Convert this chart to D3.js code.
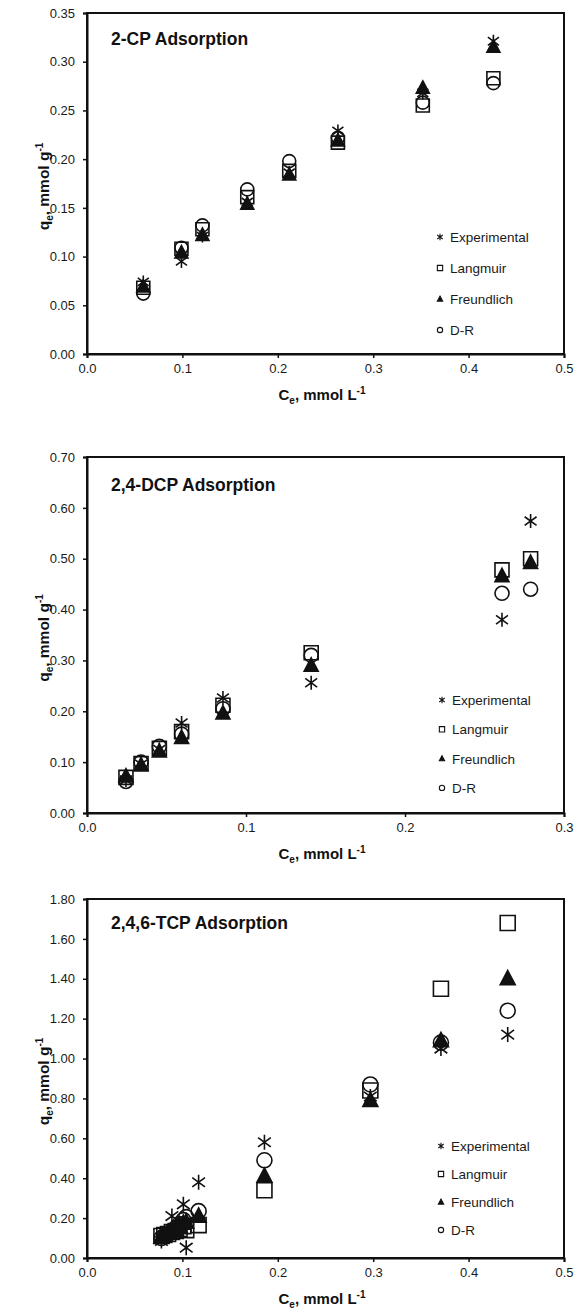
<!DOCTYPE html>
<html>
<head>
<meta charset="utf-8">
<script src="https://cdn.jsdelivr.net/npm/d3@7"></script>
<style>
  body { margin: 0; background: #fff; }
  svg { display: block; font-family: Arial, 'Liberation Sans', sans-serif; }
</style>
</head>
<body>
<div id="chart"></div>
<script>
// ---- data ----
const seriesNames = ['Experimental', 'Langmuir', 'Freundlich', 'D-R'];

// 2-CP
const cpCe   = [0.059, 0.099, 0.121, 0.168, 0.212, 0.263, 0.352, 0.426];
const cpExp  = [0.074, 0.095, 0.121, 0.156, 0.186, 0.229, 0.268, 0.321];
const cpLang = [0.068, 0.108, 0.128, 0.161, 0.188, 0.217, 0.255, 0.283];
const cpFreu = [0.069, 0.104, 0.122, 0.154, 0.184, 0.219, 0.273, 0.315];
const cpDR   = [0.062, 0.109, 0.132, 0.169, 0.198, 0.222, 0.258, 0.278];

// 2,4-DCP
const dcpCe   = [0.0245, 0.034, 0.0455, 0.0595, 0.0855, 0.141, 0.261, 0.279];
const dcpExp  = [0.065, 0.096, 0.125, 0.177, 0.226, 0.256, 0.380, 0.574];
const dcpLang = [0.070, 0.097, 0.127, 0.160, 0.212, 0.315, 0.478, 0.500];
const dcpFreu = [0.072, 0.094, 0.121, 0.148, 0.196, 0.290, 0.466, 0.492];
const dcpDR   = [0.062, 0.100, 0.131, 0.155, 0.205, 0.310, 0.432, 0.440];

// 2,4,6-TCP
const tcpCe   = [0.078, 0.081, 0.085, 0.089, 0.093, 0.097, 0.101, 0.104, 0.117, 0.186, 0.297, 0.371, 0.441];
const tcpExp  = [0.085, 0.110, 0.125, 0.210, 0.140, 0.160, 0.269, 0.052, 0.380, 0.580, 0.810, 1.050, 1.120];
const tcpLang = [0.110, 0.115, 0.120, 0.130, 0.135, 0.145, 0.160, 0.140, 0.165, 0.340, 0.840, 1.350, 1.680];
const tcpFreu = [0.105, 0.115, 0.125, 0.135, 0.145, 0.160, 0.175, 0.180, 0.210, 0.410, 0.790, 1.090, 1.400];
const tcpDR   = [0.100, 0.110, 0.120, 0.135, 0.150, 0.170, 0.190, 0.205, 0.235, 0.490, 0.870, 1.080, 1.240];

// ticks
const xTicksA = [0, 0.1, 0.2, 0.3, 0.4, 0.5];
const xTicksB = [0, 0.1, 0.2, 0.3];
const yTicksCP  = [0, 0.05, 0.10, 0.15, 0.20, 0.25, 0.30, 0.35];
const yTicksDCP = [0, 0.10, 0.20, 0.30, 0.40, 0.50, 0.60, 0.70];
const yTicksTCP = [0, 0.20, 0.40, 0.60, 0.80, 1.00, 1.20, 1.40, 1.60, 1.80];

const W = 582, H = 1313;
const left = 87, right = 564;
const ink = '#111';

// marker shapes, size = full extent squared
const square = { draw(c, size) { const h = Math.sqrt(size) / 2; c.rect(-h, -h, 2 * h, 2 * h); } };
const circle = { draw(c, size) { const r = Math.sqrt(size) / 2; c.moveTo(r, 0); c.arc(0, 0, r, 0, 2 * Math.PI); } };
const triangle = { draw(c, size) {
  const w = Math.sqrt(size);
  c.moveTo(0, -0.55 * w); c.lineTo(0.5 * w, 0.4 * w); c.lineTo(-0.5 * w, 0.4 * w); c.closePath();
} };
const asterisk = { draw(c, size) {
  const r = Math.sqrt(size) / 2, a = r * 0.85, b = r * 0.62;
  c.moveTo(0, -r); c.lineTo(0, r);
  c.moveTo(-a, -b); c.lineTo(a, b);
  c.moveTo(-a, b); c.lineTo(a, -b);
} };

const styles = {
  'Experimental': {type: asterisk, fill: 'none'},
  'Langmuir': {type: square, fill: 'none'},
  'D-R': {type: circle, fill: 'none'},
  'Freundlich': {type: triangle, fill: ink}
};
const drawOrder = ['Experimental', 'Langmuir', 'D-R', 'Freundlich'];

const svg = d3.select('#chart').append('svg').attr('width', W).attr('height', H);

const panels = [
  {title: '2-CP Adsorption', top: 13, bottom: 354, xMax: 0.5, yMax: 0.35,
   xTicks: xTicksA, yTicks: yTicksCP, ce: cpCe,
   series: {'Experimental': cpExp, 'Langmuir': cpLang, 'Freundlich': cpFreu, 'D-R': cpDR},
   msize: 13, legendY: 237, legendGap: 31, legendX: 440, titleY: 45},
  {title: '2,4-DCP Adsorption', top: 457, bottom: 813, xMax: 0.3, yMax: 0.70,
   xTicks: xTicksB, yTicks: yTicksDCP, ce: dcpCe,
   series: {'Experimental': dcpExp, 'Langmuir': dcpLang, 'Freundlich': dcpFreu, 'D-R': dcpDR},
   msize: 14, legendY: 700, legendGap: 29.3, legendX: 442, titleY: 491},
  {title: '2,4,6-TCP Adsorption', top: 899, bottom: 1258, xMax: 0.5, yMax: 1.80,
   xTicks: xTicksA, yTicks: yTicksTCP, ce: tcpCe,
   series: {'Experimental': tcpExp, 'Langmuir': tcpLang, 'Freundlich': tcpFreu, 'D-R': tcpDR},
   msize: 15, legendY: 1146, legendGap: 28, legendX: 441, titleY: 929}
];

panels.forEach(p => {
  const x = d3.scaleLinear().domain([0, p.xMax]).range([left, right]);
  const y = d3.scaleLinear().domain([0, p.yMax]).range([p.bottom, p.top]);
  const g = svg.append('g');

  // frame
  g.append('rect')
    .attr('x', left).attr('y', p.top)
    .attr('width', right - left).attr('height', p.bottom - p.top)
    .attr('fill', 'none').attr('stroke', ink).attr('stroke-width', 2);

  const xAxis = g.append('g')
    .attr('transform', `translate(0,${p.bottom})`)
    .call(d3.axisBottom(x).tickValues(p.xTicks).tickFormat(d3.format('.1f')).tickSizeOuter(0).tickSize(4).tickPadding(6));
  const yAxis = g.append('g')
    .attr('transform', `translate(${left},0)`)
    .call(d3.axisLeft(y).tickValues(p.yTicks).tickFormat(d3.format('.2f')).tickSizeOuter(0).tickSize(4).tickPadding(8));
  [xAxis, yAxis].forEach(a => {
    a.select('.domain').attr('stroke', ink).attr('stroke-width', 2);
    a.selectAll('.tick line').attr('stroke', ink).attr('stroke-width', 1.5);
    a.selectAll('.tick text').attr('fill', '#1a1a1a').style('font-size', '13px');
  });

  // panel title
  g.append('text')
    .attr('x', 111).attr('y', p.titleY)
    .attr('fill', ink).style('font-size', '17.5px').style('font-weight', 'bold')
    .text(p.title);

  // axis titles
  const xt = g.append('text')
    .attr('x', 322).attr('y', p.bottom + 46)
    .attr('text-anchor', 'middle').attr('fill', ink)
    .style('font-size', '15px').style('font-weight', 'bold');
  xt.append('tspan').text('C');
  xt.append('tspan').attr('dy', 4).style('font-size', '10px').text('e');
  xt.append('tspan').attr('dy', -4).text(', mmol L');
  xt.append('tspan').attr('dy', -6).style('font-size', '10px').text('-1');

  const yt = g.append('text')
    .attr('transform', `translate(49,${(p.top + p.bottom) / 2 + 3}) rotate(-90)`)
    .attr('text-anchor', 'middle').attr('fill', ink)
    .style('font-size', '15.5px').style('font-weight', 'bold');
  yt.append('tspan').text('q');
  yt.append('tspan').attr('dy', 4).style('font-size', '10px').text('e');
  yt.append('tspan').attr('dy', -4).text(', mmol g');
  yt.append('tspan').attr('dy', -6).style('font-size', '10px').text('-1');

  // points
  drawOrder.forEach(name => {
    const st = styles[name];
    const sym = d3.symbol().type(st.type).size(p.msize * p.msize);
    g.append('g').selectAll('path')
      .data(p.series[name].map((v, i) => [p.ce[i], v]))
      .join('path')
      .attr('transform', d => `translate(${x(d[0])},${y(d[1])})`)
      .attr('d', sym)
      .attr('fill', st.fill)
      .attr('stroke', ink)
      .attr('stroke-width', 1.6);
  });

  // legend
  const leg = g.append('g');
  seriesNames.forEach((name, i) => {
    const st = styles[name];
    const ly = p.legendY + i * p.legendGap;
    leg.append('path')
      .attr('transform', `translate(${p.legendX},${ly})`)
      .attr('d', d3.symbol().type(st.type).size(name === 'Experimental' ? 42 : 28))
      .attr('fill', st.fill).attr('stroke', ink).attr('stroke-width', 1.1);
    leg.append('text')
      .attr('x', p.legendX + 10).attr('y', ly + 5)
      .attr('fill', '#1a1a1a').style('font-size', '13.5px')
      .text(name);
  });
});
</script>
</body>
</html>
